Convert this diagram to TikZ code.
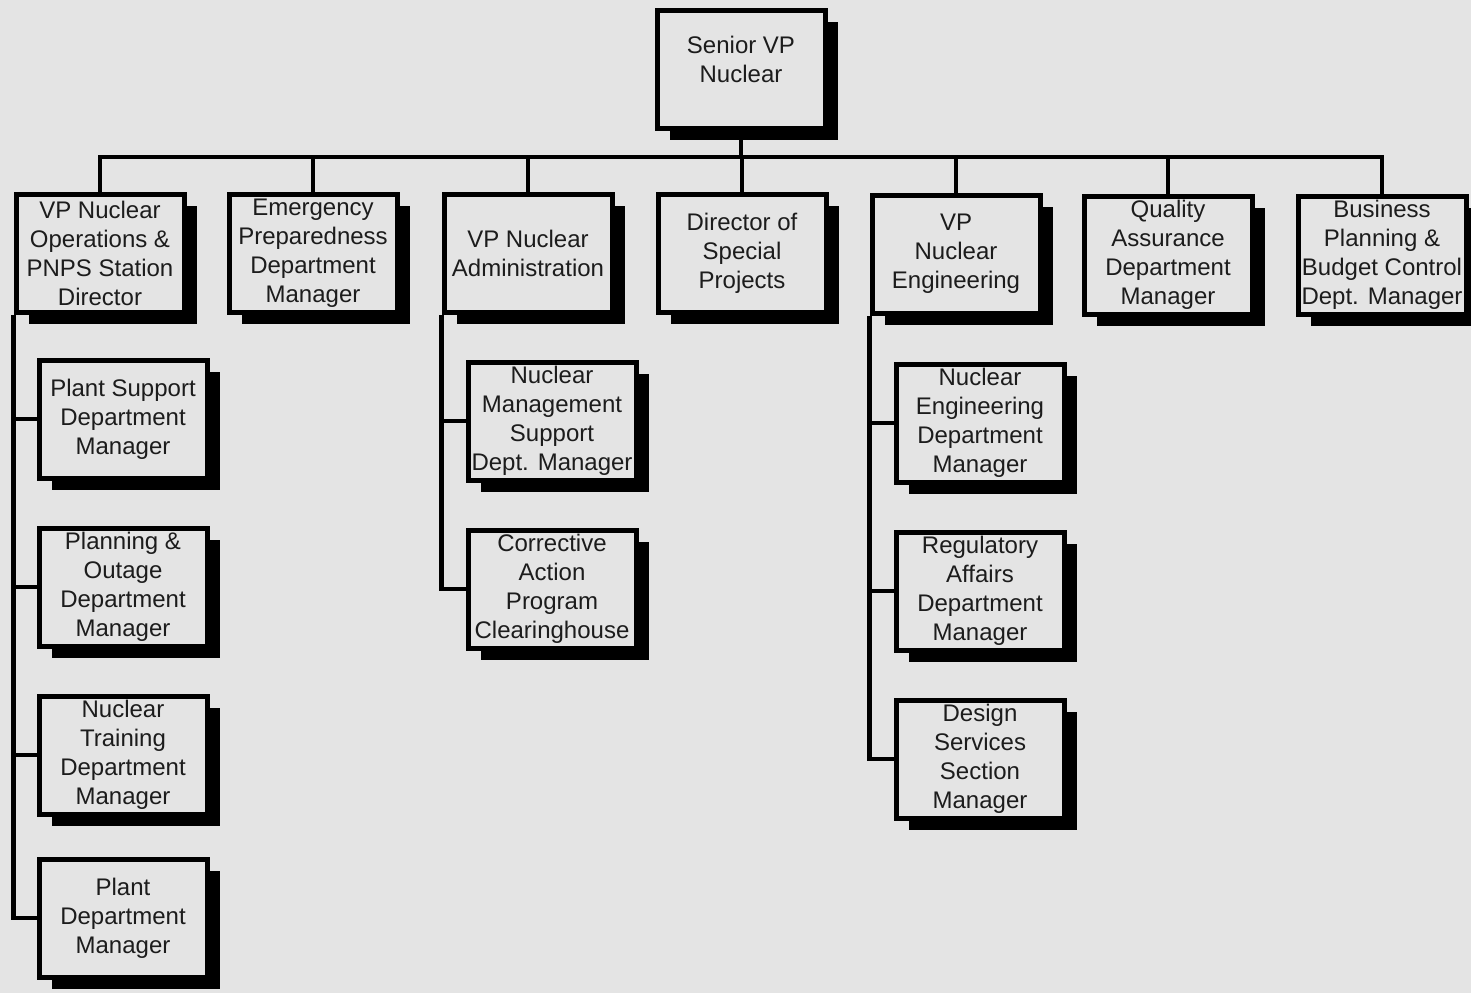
\documentclass[tikz,border=0pt]{standalone}
\usepackage{fontspec}
\setmainfont{Liberation Sans}
\usetikzlibrary{shadows}

\definecolor{paper}{HTML}{E4E4E4}
\definecolor{ink}{HTML}{1C1C1C}

\tikzset{
  unit/.style={draw=black, line width=2.5pt, fill=paper, text=ink,
    align=center, inner sep=0pt,
    minimum width=84pt, minimum height=59pt,
    font=\fontsize{12}{14.5}\selectfont,
    drop shadow={shadow xshift=6.5pt, shadow yshift=-6pt, fill=black, opacity=1}},
  link/.style={draw=black, line width=2.4pt}
}

\begin{document}
\begin{tikzpicture}[x=0.5pt, y=-0.5pt]
    \fill[paper] (0,0) rectangle (1471,993);
    \clip (0,0) rectangle (1471,993);

    \node[unit, text depth=10pt] (senior) at (741,69) {Senior VP\\Nuclear};

    % first level
    \node[unit] (ops)     at (100,253)  {VP Nuclear\\Operations \&\\PNPS Station\\Director};
    \node[unit] (emerg)   at (313,253)  {Emergency\\Preparedness\\Department\\Manager};
    \node[unit] (admin)   at (528,253)  {VP Nuclear\\Administration};
    \node[unit] (special) at (742,253)  {Director of\\Special\\Projects};
    \node[unit] (vpeng)   at (956,254)  {VP\\Nuclear\\Engineering};
    \node[unit] (qa)      at (1168,255) {Quality\\Assurance\\Department\\Manager};
    \node[unit] (bplan)   at (1382,255) {Business\\Planning \&\\Budget Control\\Dept. Manager};

    % operations
    \node[unit] (plantsup) at (123,419) {Plant Support\\Department\\Manager};
    \node[unit] (outage)   at (123,587) {Planning \&\\Outage\\Department\\Manager};
    \node[unit] (training) at (123,755) {Nuclear\\Training\\Department\\Manager};
    \node[unit] (plant)    at (123,918) {Plant\\Department\\Manager};

    % administration
    \node[unit] (nmsd) at (552,421) {Nuclear\\Management\\Support\\Dept. Manager};
    \node[unit] (capc) at (552,589) {Corrective\\Action\\Program\\Clearinghouse};

    % engineering
    \node[unit] (neng)   at (980,423) {Nuclear\\Engineering\\Department\\Manager};
    \node[unit] (regaff) at (980,591) {Regulatory\\Affairs\\Department\\Manager};
    \node[unit] (design) at (980,759) {Design\\Services\\Section\\Manager};

    \coordinate (bus) at (741,157);
    \draw[link] (senior.south) -- (senior.south |- bus);
    \draw[link] (ops.north) |- (bus) -| (bplan.north);
    \foreach \n in {emerg,admin,special,vpeng,qa}
        \draw[link] (\n.north) -- (\n.north |- bus);

    \draw[link] (ops.south west) |- (plant.west);
    \foreach \n in {plantsup,outage,training}
        \draw[link] (\n.west) -- (\n.west -| ops.west);

    \draw[link] (admin.south west) |- (capc.west);
    \draw[link] (nmsd.west) -- (nmsd.west -| admin.west);

    \draw[link] (vpeng.south west) |- (design.west);
    \foreach \n in {neng,regaff}
        \draw[link] (\n.west) -- (\n.west -| vpeng.west);
\end{tikzpicture}
\end{document}
